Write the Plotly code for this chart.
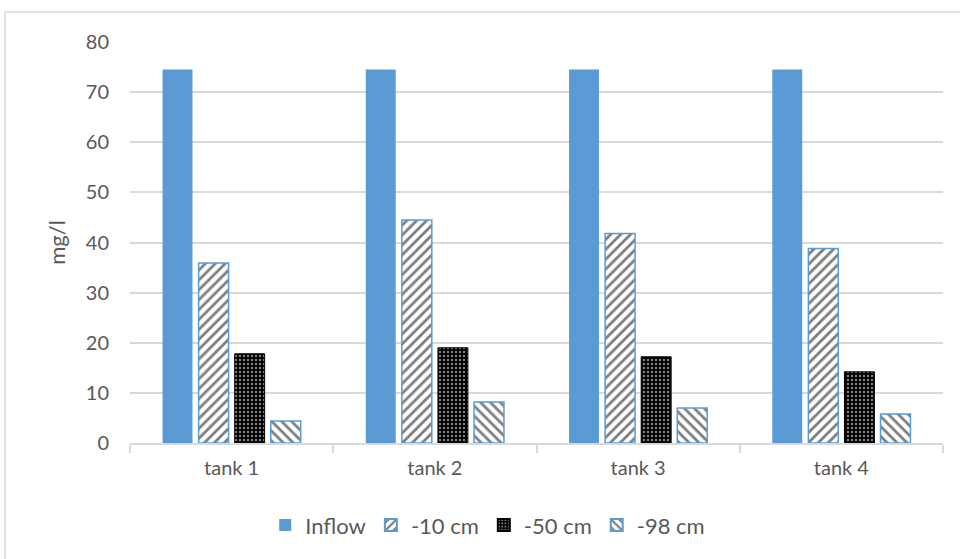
import plotly.graph_objects as go

# Concentrations (mg/l) per tank and sampling depth
tanks = ["tank 1", "tank 2", "tank 3", "tank 4"]
inflow = [74.5, 74.5, 74.5, 74.5]
depth_10 = [35.9, 44.5, 41.8, 38.8]
depth_50 = [17.8, 19.0, 17.2, 14.2]
depth_98 = [4.4, 8.2, 7.0, 5.8]

blue = "#5B9BD5"
grid = "#D9D9D9"
text = "#595959"
font_family = "Lato, sans-serif"

fig = go.Figure()
fig.add_trace(go.Bar(name="Inflow", x=tanks, y=inflow,
                     marker=dict(color=blue, line=dict(width=0))))
fig.add_trace(go.Bar(name="-10 cm", x=tanks, y=depth_10,
                     marker=dict(color="white", line=dict(color=blue, width=1.5),
                                 pattern=dict(shape="/", fgcolor="black", bgcolor="white",
                                              size=7, solidity=0.4))))
fig.add_trace(go.Bar(name="-50 cm", x=tanks, y=depth_50,
                     marker=dict(color="black", line=dict(color="black", width=1),
                                 pattern=dict(shape=".", fgcolor="white", bgcolor="black",
                                              size=4, solidity=0.3))))
fig.add_trace(go.Bar(name="-98 cm", x=tanks, y=depth_98,
                     marker=dict(color="white", line=dict(color=blue, width=1.5),
                                 pattern=dict(shape="\\", fgcolor="black", bgcolor="white",
                                              size=7, solidity=0.4))))

fig.update_layout(
    width=960, height=559,
    margin=dict(l=130, r=17, t=42, b=116),
    paper_bgcolor="white", plot_bgcolor="white",
    font=dict(family=font_family, size=20, color=text),
    barmode="group", bargap=0.29, bargroupgap=0.17,
    showlegend=True,
    legend=dict(orientation="h", x=0.44, xanchor="center", y=-0.205, yanchor="middle",
                font=dict(size=22, color=text), itemsizing="constant"),
    xaxis=dict(showline=True, linecolor=grid, linewidth=1.5,
               ticks="outside", tickson="boundaries", ticklen=8, tickcolor=grid,
               tickwidth=1.5, ticklabelstandoff=6, tickfont=dict(size=20, color=text)),
    yaxis=dict(range=[0, 80], dtick=10, showgrid=True, gridcolor=grid, gridwidth=1.5,
               zeroline=False, ticks="", ticklen=0, ticklabelstandoff=20,
               tickfont=dict(size=20, color=text),
               title=dict(text="mg/l", font=dict(size=22, color=text), standoff=14)),
    shapes=[dict(type="rect", xref="paper", yref="paper",
                 x0=(5 - 130) / 813, x1=(962 - 130) / 813,
                 y0=(443 - 562) / 401, y1=(443 - 12) / 401,
                 line=dict(color=grid, width=1.5), fillcolor="rgba(0,0,0,0)", layer="below")],
)

fig.write_html("out.html")
